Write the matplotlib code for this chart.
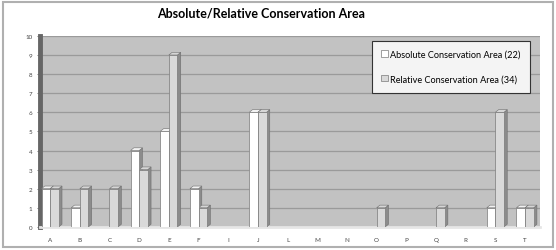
import numpy as np
import matplotlib
matplotlib.use('Agg')
import matplotlib.pyplot as plt
from matplotlib.patches import Rectangle, Polygon

categorias = ["A", "B", "C", "D", "E", "F", "I", "J", "L", "M", "N", "O", "P", "Q", "R", "S", "T"]
absoluta = [2, 1, 0, 4, 5, 2, 0, 6, 0, 0, 0, 0, 0, 0, 0, 1, 1]
relativa = [2, 2, 2, 3, 9, 1, 0, 6, 0, 0, 0, 1, 0, 1, 0, 6, 1]

plt.rcParams['font.family'] = ['Lato', 'DejaVu Sans']

fig = plt.figure(figsize=(5.56, 2.51), dpi=100)
fig.patches.append(Rectangle((0.006, 0.01), 0.988, 0.98, transform=fig.transFigure,
                             fill=False, edgecolor="#b0b0b0", linewidth=1.5))
ax = fig.add_axes([0.072, 0.092, 0.899, 0.761])
ax.set_facecolor("#c2c2c2")

x = np.arange(len(categorias))
w = 0.29
d = 0.11  # profundidade falsa 3D
dy = 0.14

# faces laterais e topo (efeito 3D)
for xs, vals, cor in [(x - w / 2, absoluta, "#f2f2f2"), (x + w / 2, relativa, "#d6d6d6")]:
    for xi, v in zip(xs, vals):
        if v == 0:
            continue
        ax.add_patch(Polygon([(xi + w / 2, 0), (xi + w / 2 + d, dy), (xi + w / 2 + d, v + dy),
                              (xi + w / 2, v)], closed=True, facecolor="#8c8c8c",
                             edgecolor="#6e6e6e", linewidth=0.4, zorder=3))
        ax.add_patch(Polygon([(xi - w / 2, v), (xi - w / 2 + d, v + dy), (xi + w / 2 + d, v + dy),
                              (xi + w / 2, v)], closed=True, facecolor=cor,
                             edgecolor="#6e6e6e", linewidth=0.4, zorder=3))

ax.bar(x - w / 2, absoluta, w, color="white", edgecolor="#7a7a7a", linewidth=0.5, zorder=4,
       label="Absolute Conservation Area (22)")
ax.bar(x + w / 2, relativa, w, color="#d9d9d9", edgecolor="#7a7a7a", linewidth=0.5, zorder=4,
       label="Relative Conservation Area (34)")

ax.set_xlim(-0.34, 16.5)
ax.set_ylim(0, 10)
ax.set_yticks(range(0, 11))
ax.set_xticks(x)
ax.set_xticklabels(categorias)
ax.tick_params(axis="both", labelsize=4.5, colors="#444444", length=2, width=0.5)
ax.tick_params(axis="x", length=0, pad=7)
ax.yaxis.grid(True, color="#9a9a9a", linewidth=0.9, zorder=1)
ax.set_axisbelow(True)
for s in ["top", "right"]:
    ax.spines[s].set_visible(False)
ax.spines["left"].set_color("#666666")
ax.spines["left"].set_linewidth(3.5)
ax.spines["bottom"].set_color("#e6e6e6")
ax.spines["bottom"].set_linewidth(2)

fig.text(261 / 556, 1 - 14 / 251, "Absolute/Relative Conservation Area", fontsize=9,
         fontweight="bold", ha="center", va="center")
leg = ax.legend(loc="upper right", bbox_to_anchor=(0.98, 0.975), fontsize=6.6, frameon=True,
                fancybox=False, edgecolor="#333333", labelspacing=1.7, borderpad=1.0,
                borderaxespad=0, handlelength=0.7, handleheight=0.7, handletextpad=0.3,
                framealpha=1)
leg.get_frame().set_linewidth(0.8)
leg.get_frame().set_facecolor("#f4f4f4")

plt.savefig("out.png", dpi=100)
